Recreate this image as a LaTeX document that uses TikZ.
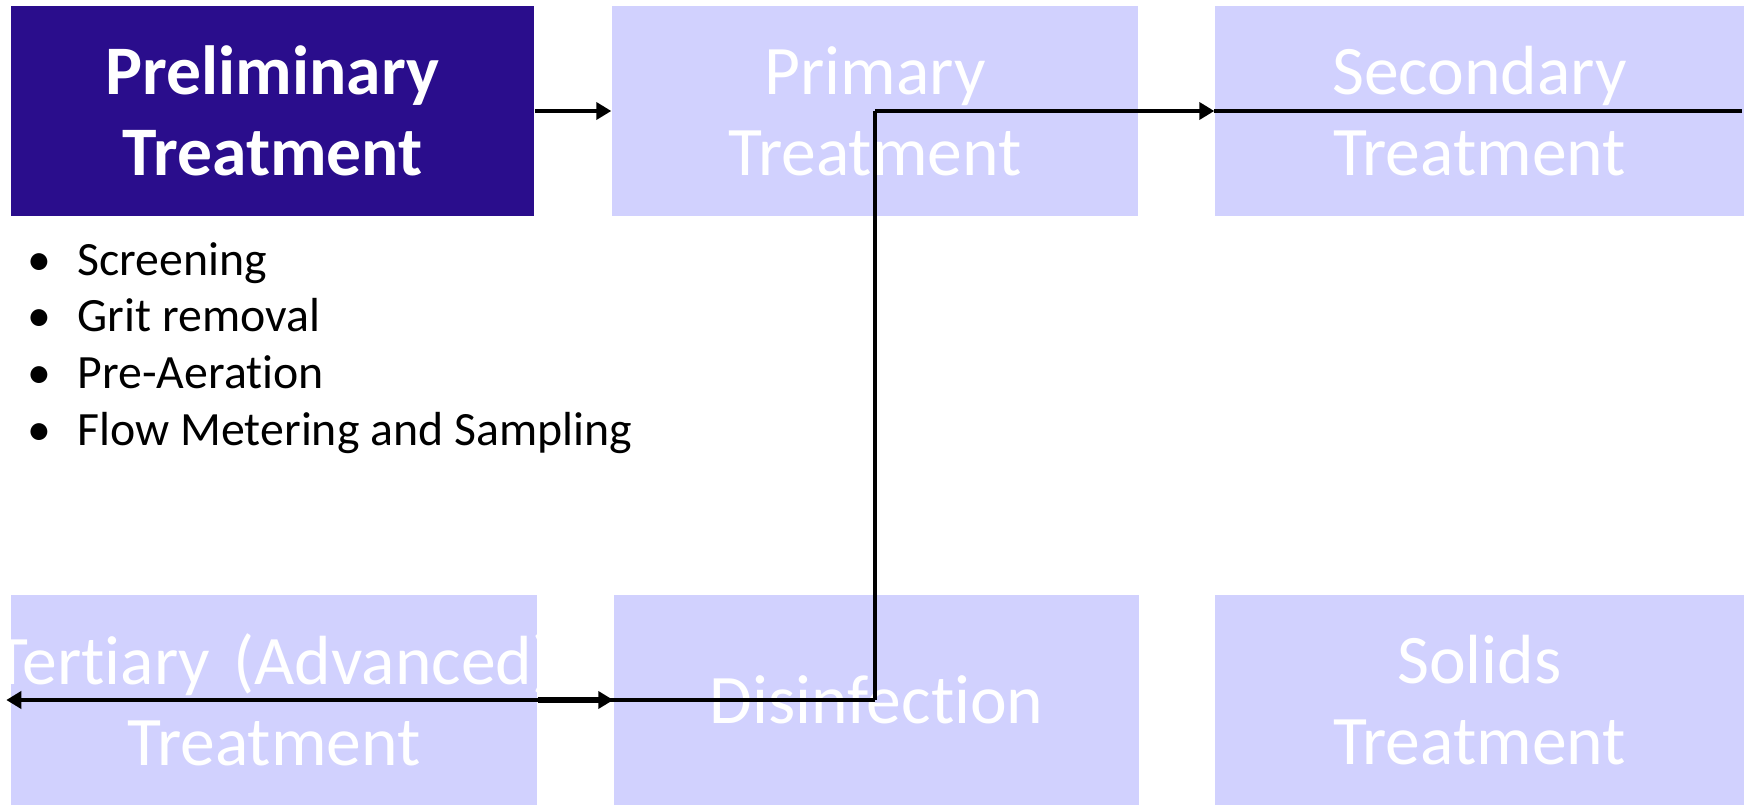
\documentclass[tikz,border=0pt]{standalone}
\usepackage{fontspec}
\setmainfont{Carlito}[RawFeature={-liga}]
\usepackage{xcolor}
\definecolor{stageDark}{HTML}{2A0D8C}
\definecolor{stageLight}{HTML}{D1D1FE}
\usepackage{tikz}
\usetikzlibrary{arrows.meta,calc}

\begin{document}
\begin{tikzpicture}[x=0.1mm, y=-0.1mm,
  stage/.style={rectangle, fill=stageLight, text=white, inner sep=0pt,
    minimum height=21mm, align=center, font=\fontsize{19.8}{23}\selectfont},
  current/.style={stage, fill=stageDark, font=\fontsize{19.8}{23}\selectfont\bfseries},
  pipe/.style={line width=1.2pt},
  flow/.style={pipe, -{Triangle[length=1.5mm, width=1.7mm]}}]
  \useasboundingbox (0,0) rectangle (1744,805);
  % Stages
  \node[current, minimum width=52.3mm] (prelim) at (272.5,111) {Preliminary\\Treatment};
  \node[stage, minimum width=52.6mm] (primary) at (875,111) {Primary\\Treatment};
  \node[stage, minimum width=52.9mm] (secondary) at (1479.5,111) {Secondary\\Treatment};
  \node[stage, minimum width=52.6mm, text width=52.6mm] (tertiary) at (274,700)
    {\makebox[\linewidth]{Tertiary (Advanced)}\\Treatment};
  \node[stage, minimum width=52.5mm] (disinf) at (876.5,700) {Disinfection};
  \node[stage, minimum width=52.9mm] (solids) at (1479.5,700) {Solids\\Treatment};
  % Preliminary steps
  \foreach \txt [count=\i] in {Screening, Grit removal, Pre-Aeration, Flow Metering and Sampling}
    \node[anchor=base west, inner sep=0pt, font=\fontsize{13.6}{16}\selectfont] (step\i)
      at (27,{275+56.7*(\i-1)}) {\makebox[5mm][l]{\textbullet}\txt};
  % Flow path
  \coordinate (riseTop) at (primary.center |- secondary.west);
  \coordinate (riseFoot) at (primary.center |- disinf.west);
  \coordinate (lineEnd) at ([xshift=-0.3mm]secondary.east);
  \coordinate (leftEnd) at ([xshift=-0.4mm]tertiary.west);
  \draw[flow] (prelim.east) -- (primary.west);
  \draw[flow] (riseTop) -- (secondary.west);
  \draw[pipe] (secondary.west) -- (lineEnd);
  \draw[pipe] (riseTop) -- (riseFoot);
  \draw[flow] (riseFoot) -- (leftEnd);
  \draw[flow, line width=1.9pt] (tertiary.east) -- (disinf.west);
\end{tikzpicture}
\end{document}
